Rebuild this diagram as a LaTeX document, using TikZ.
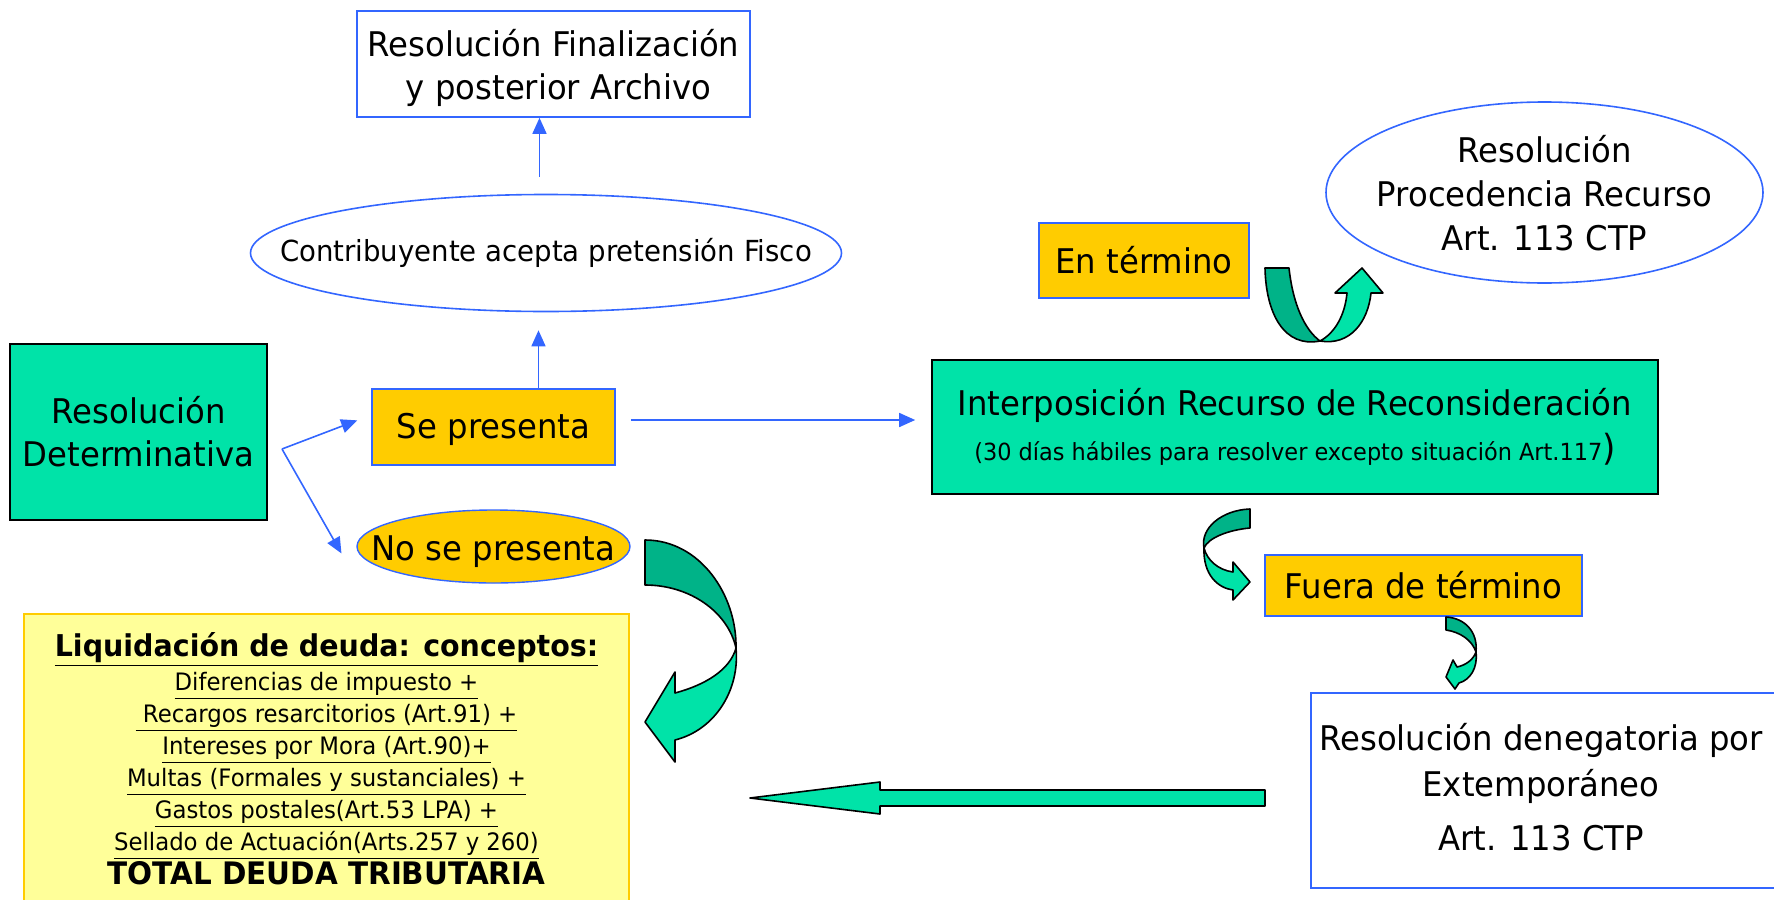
\documentclass[tikz,border=0pt]{standalone}
\usepackage{fontspec}
\setmainfont{DejaVu Sans}[FakeStretch=0.95]
\usetikzlibrary{shapes.geometric, positioning, arrows.meta}

\definecolor{boxblue}{HTML}{3366FF}
\definecolor{mint}{HTML}{00E3A8}
\definecolor{darkmint}{HTML}{00B388}
\definecolor{gold}{HTML}{FFCC00}
\definecolor{paleyellow}{HTML}{FFFF99}

\tikzset{
  mintbox/.style = {rectangle, draw=black, line width=0.8pt, fill=mint,
    align=center, font=\fontsize{17}{21.5}\selectfont},
  goldbox/.style = {rectangle, draw=boxblue, line width=0.8pt, fill=gold,
    font=\fontsize{17}{21.5}\selectfont},
  plainbox/.style = {rectangle, draw=boxblue, line width=0.8pt, fill=white,
    align=center, font=\fontsize{17}{21.5}\selectfont},
  plainoval/.style = {ellipse, draw=boxblue, line width=0.8pt, fill=white, inner sep=0pt},
  goldoval/.style = {ellipse, draw=boxblue, line width=0.7pt, fill=gold, inner sep=0pt},
  ovaltext/.style = {align=center, font=\fontsize{17}{22}\selectfont},
  flow/.style = {draw=boxblue, line width=0.8pt, -{Triangle[length=8pt,width=7pt]}},
  bandback/.style = {fill=darkmint, draw=black, line width=0.8pt, line join=round},
  bandfront/.style = {fill=mint, draw=black, line width=0.8pt, line join=round}
}

\begin{document}
\begin{tikzpicture}[x=0.5pt, y=-0.5pt]
\useasboundingbox (0,0) rectangle (1774,900);

% lado izquierdo
\node[mintbox, minimum width=128.5pt, minimum height=88pt] (determinativa)
  at (138.5,432) {Resolución\\Determinativa};
\node[goldbox, minimum width=121.5pt, minimum height=38pt, text height=15pt] (sepresenta)
  at (493.5,427) {Se presenta};
\node[goldoval, minimum width=136.5pt, minimum height=36.5pt] (nosepresenta)
  at (493.5,546.5) {};
\node[ovaltext, yshift=-2.5pt] (nosepresentatext) at (nosepresenta) {No se presenta};

\node[plainoval, minimum width=295.5pt, minimum height=58.5pt] (acepta)
  at (546,253) {};
\node[ovaltext, font=\fontsize{14.5}{17}\selectfont] (aceptatext) at (acepta)
  {Contribuyente acepta pretensión Fisco};
\node[plainbox, minimum width=196.5pt, minimum height=53pt] (archivo)
  at (553.5,64) {\rule{0pt}{18pt}Resolución Finalización\\\ y posterior Archivo};

\node[rectangle, draw=gold, line width=0.8pt, fill=paleyellow,
  minimum width=302.5pt, minimum height=145pt, align=center,
  font=\fontsize{12}{16}\selectfont] (liquidacion) at (326.5,759)
  {{\bfseries\fontsize{15}{16}\selectfont\underline{Liquidación de deuda: conceptos:}}\\[1pt]
   \underline{Diferencias de impuesto +}\\
   \underline{\ Recargos resarcitorios (Art.91) +}\\
   \underline{Intereses por Mora (Art.90)+}\\
   \underline{Multas (Formales y sustanciales) +}\\
   \underline{Gastos postales(Art.53 LPA) +}\\
   \underline{Sellado de Actuación(Arts.257 y 260)}\\[1pt]
   {\bfseries\fontsize{15.5}{16}\selectfont TOTAL DEUDA TRIBUTARIA}};

% lado derecho
\node[goldbox, minimum width=105pt, minimum height=37.5pt] (entermino)
  at (1144,260.5) {En término};
\node[plainoval, minimum width=218.5pt, minimum height=90.5pt] (procedencia)
  at (1544.5,192.5) {};
\node[ovaltext] (procedenciatext) at (1544.5,193)
  {Resolución\\Procedencia Recurso\\Art. 113 CTP};
\node[mintbox, minimum width=363pt, minimum height=67pt,
  font=\fontsize{17}{22.5}\selectfont] (interposicion) at (1295,427)
  {Interposición Recurso de Reconsideración\\
   {\fontsize{11.8}{13}\selectfont(30 días hábiles para resolver excepto situación Art.117}{\fontsize{18}{20}\selectfont)}};
\node[goldbox, minimum width=158.5pt, minimum height=30.5pt] (fuera)
  at (1423.5,585.5) {Fuera de término};
\node[plainbox, minimum width=240pt, minimum height=97.5pt, anchor=north west]
  (denegatoria) at (1310,692) {};
\node[ovaltext, font=\fontsize{17}{23}\selectfont] (denegatoriatext) at (1541,787.5)
  {Resolución denegatoria por\\Extemporáneo\\[4pt]Art. 113 CTP};

% conectores
\coordinate (fork) at (282,449);
\draw[flow, shorten >=7.5pt] (fork) -- ([yshift=6pt]sepresenta.west);
\draw[flow, shorten >=15pt] (fork) -- ([yshift=-16.5pt]nosepresenta.west);
\draw[flow, shorten >=9pt] ([xshift=22.5pt]sepresenta.north)
  -- ([xshift=22.5pt]sepresenta.north |- acepta.south);
\draw[flow, shorten <=8.5pt] ([xshift=-7pt]archivo.south |- acepta.north)
  -- ([xshift=-7pt]archivo.south);
\draw[flow, shorten <=7.5pt, shorten >=8pt] ([yshift=3.5pt]sepresenta.east)
  -- ([yshift=3.5pt]sepresenta.east -| interposicion.west);

% flechas curvas
\path[bandback] (645,540) .. controls (700,540) and (737,595) .. (736,648)
  .. controls (728,612) and (690,585) .. (645,585) -- cycle;
\path[bandfront] (736,648) .. controls (740,690) and (715,730) .. (675,740)
  -- (675,762) -- (645,722) -- (675,672) -- (675,693)
  .. controls (705,685) and (730,670) .. (736,648) -- cycle;

\path[bandback] (1265,268) -- (1289,268) .. controls (1293,305) and (1305,330) .. (1320,341)
  .. controls (1285,348) and (1266,315) .. (1265,268) -- cycle;
\path[bandfront] (1320,341) .. controls (1350,346) and (1368,322) .. (1371,293)
  -- (1383,293) -- (1362,268) -- (1335,293) -- (1347,293)
  .. controls (1345,315) and (1335,333) .. (1320,341) -- cycle;

\path[bandback] (1250,509) -- (1250,528) .. controls (1228,530) and (1208,538) .. (1204,548)
  .. controls (1200,528) and (1222,510) .. (1250,509) -- cycle;
\path[bandfront] (1204,548) .. controls (1203,575) and (1218,588) .. (1233,590)
  -- (1233,600) -- (1250,582) -- (1233,562) -- (1233,572)
  .. controls (1218,570) and (1207,560) .. (1204,548) -- cycle;

\path[bandback] (1446,617) -- (1446,630) .. controls (1460,632) and (1472,640) .. (1476,652)
  .. controls (1478,632) and (1465,618) .. (1446,617) -- cycle;
\path[bandfront] (1476,652) .. controls (1478,668) and (1470,680) .. (1459,683)
  -- (1455,689) -- (1446,677) -- (1453,660) -- (1457,667)
  .. controls (1466,665) and (1473,660) .. (1476,652) -- cycle;

% flecha recta inferior
\path[bandfront] (1265,790) -- (880,790) -- (880,782) -- (750,798)
  -- (880,814) -- (880,806) -- (1265,806) -- cycle;
\end{tikzpicture}
\end{document}
